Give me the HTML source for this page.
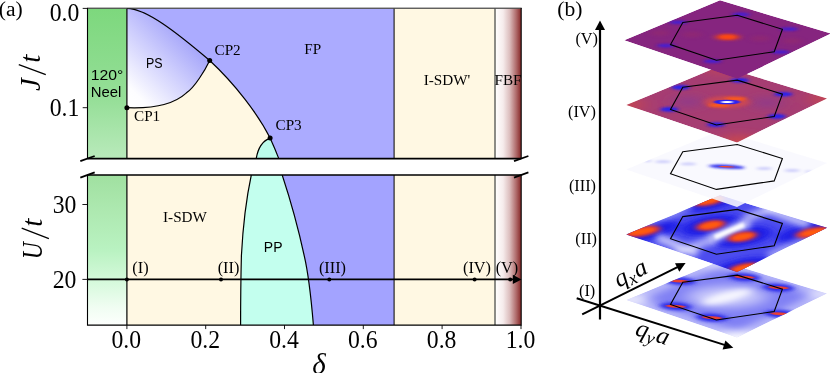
<!DOCTYPE html>
<html><head><meta charset="utf-8">
<style>
html,body{margin:0;padding:0;background:#fff;}
body{width:830px;height:373px;overflow:hidden;font-family:"Liberation Serif",serif;}
svg{display:block;}
.s{font-family:"Liberation Serif",serif;}
.ss{font-family:"Liberation Sans",sans-serif;}
</style></head><body>
<svg width="830" height="373" viewBox="0 0 830 373">
<defs>
<linearGradient id="gT" x1="0" y1="0" x2="0" y2="1">
<stop offset="0" stop-color="#7dd87d"/><stop offset="0.4" stop-color="#8ddc8f"/><stop offset="0.62" stop-color="#97df99"/><stop offset="1" stop-color="#b9eabb"/>
</linearGradient>
<linearGradient id="gB" x1="0" y1="0" x2="0" y2="1">
<stop offset="0" stop-color="#a0e0a0"/><stop offset="0.25" stop-color="#aee9b1"/><stop offset="0.5" stop-color="#b9f2c1"/><stop offset="0.7" stop-color="#d4f9da"/><stop offset="0.88" stop-color="#f0fdf2"/><stop offset="1" stop-color="#fdfffd"/>
</linearGradient>
<linearGradient id="gF" x1="0" y1="0" x2="1" y2="0">
<stop offset="0" stop-color="#ffffff"/><stop offset="0.3" stop-color="#f6ecec"/><stop offset="0.55" stop-color="#dcbebe"/><stop offset="0.8" stop-color="#b06c6c"/><stop offset="1" stop-color="#852525"/>
</linearGradient>
<linearGradient id="gPS" gradientUnits="userSpaceOnUse" x1="130" y1="104" x2="197" y2="37">
<stop offset="0" stop-color="#ffffff"/><stop offset="0.12" stop-color="#fdfdff"/><stop offset="0.55" stop-color="#cfcffd"/><stop offset="1" stop-color="#9c9cf9"/>
</linearGradient>
<clipPath id="cT"><rect x="87.5" y="8.4" width="433.7" height="150.2"/></clipPath>
<clipPath id="cB"><rect x="87.5" y="175" width="433.7" height="150.1"/></clipPath>
</defs>

<!-- ============ PANEL A : top ============ -->
<g clip-path="url(#cT)">
<rect x="87.5" y="8.4" width="39.4" height="150.2" fill="url(#gT)"/>
<rect x="126.9" y="8.4" width="268" height="150.2" fill="#fff8e3"/>
<!-- FP region -->
<path d="M126.9,8.4 C146,8.4 176,32 209.7,60.5 C235,84 258,114 270.1,138.1 C273.2,145 276.6,153 278.8,158.6 L394.1,158.6 L394.1,8.4 Z" fill="#ababff"/>
<!-- PS region -->
<path id="ps" d="M126.9,8.4 C146,8.4 176,32 209.7,60.5 C205.2,70 194.6,87.5 186.2,93.1 C173.8,104.3 152,108.7 126.9,107.7 Z" fill="url(#gPS)"/>
<!-- PP small -->
<path d="M256.2,158.6 C258,148 262,141 270.1,138.1 C273.2,145 276.6,153 278.8,158.6 Z" fill="#bbfceb"/>
<rect x="394.1" y="8.4" width="100.5" height="150.2" fill="#fff8e3"/>
<rect x="495.3" y="8.4" width="26" height="150.2" fill="url(#gF)"/>
<!-- curves -->
<g fill="none" stroke="#000" stroke-width="1.2">
<path d="M126.9,8.4 C146,8.4 176,32 209.7,60.5 C235,84 258,114 270.1,138.1 C273.2,145 276.6,153 278.8,158.6"/>
<path d="M209.7,60.5 C205.2,70 194.6,87.5 186.2,93.1 C173.8,104.3 152,108.7 126.9,107.7"/>
<path d="M256.2,158.6 C258,148 262,141 270.1,138.1"/>
<line x1="126.9" y1="8.4" x2="126.9" y2="158.6" stroke-width="1.2"/>
<line x1="394.1" y1="8.4" x2="394.1" y2="158.6" stroke-width="1"/>
<line x1="495" y1="8.4" x2="495" y2="158.6" stroke="#787872" stroke-width="1.7"/>
</g>
<text class="s" x="508" y="84.5" font-size="15.2" text-anchor="middle" opacity="0.999">FBF</text>
</g>

<!-- ============ PANEL A : bottom ============ -->
<g clip-path="url(#cB)">
<rect x="87.5" y="175" width="39.4" height="150.1" fill="url(#gB)"/>
<rect x="126.9" y="175" width="268" height="150.1" fill="#fff8e3"/>
<path d="M282.2,175 C287.8,192 297.6,225 304.2,255.7 C308,272 311.3,300 313.4,325.1 L394.1,325.1 L394.1,175 Z" fill="#a3a3ff"/>
<path d="M251.3,175 C247,195 243,225 241.4,255.7 C240.8,280 240.6,300 240.6,325.1 L313.4,325.1 C311.3,300 308,272 304.2,255.7 C297.6,225 287.8,192 282.2,175 Z" fill="#c3ffee"/>
<rect x="394.1" y="175" width="100.5" height="150.1" fill="#fff8e3"/>
<rect x="495.3" y="175" width="26" height="150.1" fill="url(#gF)"/>
<g fill="none" stroke="#000" stroke-width="1.2">
<path d="M282.2,175 C287.8,192 297.6,225 304.2,255.7 C308,272 311.3,300 313.4,325.1"/>
<path d="M251.3,175 C247,195 243,225 241.4,255.7 C240.8,280 240.6,300 240.6,325.1"/>
<line x1="126.9" y1="175" x2="126.9" y2="325.1" stroke-width="1.2"/>
<line x1="394.1" y1="175" x2="394.1" y2="325.1" stroke-width="1"/>
<line x1="495" y1="175" x2="495" y2="325.1" stroke="#787872" stroke-width="1.7"/>
</g>
</g>

<!-- axes frames -->
<g fill="none" stroke="#000" stroke-width="1.1">
<path d="M87.5,158.6 L87.5,8 M521.2,8 L521.2,158.6"/><line x1="87" y1="8.2" x2="521.7" y2="8.2" stroke-width="0.9"/>
<path d="M87.5,175 L87.5,325.1 L521.2,325.1 L521.2,175"/>
<line x1="87.5" y1="158.6" x2="521.2" y2="158.6" stroke-width="1.6"/>
<line x1="87.5" y1="175" x2="521.2" y2="175" stroke-width="1.6"/>
</g>
<!-- break marks -->
<g stroke="#000" stroke-width="1.8" stroke-linecap="butt">
<line x1="80.3" y1="161.2" x2="94.7" y2="156"/>
<line x1="80.3" y1="177.6" x2="94.7" y2="172.4"/>
<line x1="514" y1="161.2" x2="528.4" y2="156"/>
<line x1="514" y1="177.6" x2="528.4" y2="172.4"/>
</g>
<!-- ticks -->
<g stroke="#000" stroke-width="0.9">
<line x1="82.7" y1="8.4" x2="87.5" y2="8.4"/>
<line x1="82.7" y1="107.7" x2="87.5" y2="107.7"/>
<line x1="82.4" y1="204.5" x2="87.5" y2="204.5"/>
<line x1="82.4" y1="279.4" x2="87.5" y2="279.4"/>
<line x1="126.9" y1="325.1" x2="126.9" y2="329.1"/>
<line x1="205.7" y1="325.1" x2="205.7" y2="329.1"/>
<line x1="284.5" y1="325.1" x2="284.5" y2="329.1"/>
<line x1="363.3" y1="325.1" x2="363.3" y2="329.1"/>
<line x1="442.1" y1="325.1" x2="442.1" y2="329.1"/>
<line x1="521" y1="325.1" x2="521" y2="329.1"/>
</g>
<!-- U=20 line -->
<line x1="87.5" y1="279.4" x2="514" y2="279.4" stroke="#000" stroke-width="1.9"/>
<path d="M521.5,279.4 L512.8,274.8 L512.8,284 Z" fill="#000"/>
<g fill="#000">
<circle cx="126.9" cy="279.4" r="2"/><circle cx="221" cy="279.4" r="2"/><circle cx="329.3" cy="279.4" r="2"/><circle cx="474.6" cy="279.4" r="2"/><circle cx="510.2" cy="279.4" r="2"/>
<circle cx="126.9" cy="107.7" r="2.5"/><circle cx="209.7" cy="60.5" r="2.5"/><circle cx="270.1" cy="138.1" r="2.5"/>
</g>

<!-- text -->
<g class="s" fill="#000" opacity="0.999">
<g transform="translate(-1.2,16.3) scale(1.03,1.04)"><text font-size="21">(a)</text></g>
<g transform="translate(79.3,21.1) scale(0.93,1)"><text font-size="25.5" text-anchor="end">0.0</text></g>
<g transform="translate(79.3,115.9) scale(0.93,1)"><text font-size="25.5" text-anchor="end">0.1</text></g>
<g transform="translate(76.4,212.7) scale(0.93,1)"><text font-size="25.5" text-anchor="end">30</text></g>
<g transform="translate(76.4,287.5) scale(0.93,1)"><text font-size="25.5" text-anchor="end">20</text></g>
<g transform="translate(126.2,347.6) scale(0.93,1)"><text font-size="25.5" text-anchor="middle">0.0</text></g>
<g transform="translate(205.2,347.6) scale(0.93,1)"><text font-size="25.5" text-anchor="middle">0.2</text></g>
<g transform="translate(284,347.6) scale(0.93,1)"><text font-size="25.5" text-anchor="middle">0.4</text></g>
<g transform="translate(362.8,347.6) scale(0.93,1)"><text font-size="25.5" text-anchor="middle">0.6</text></g>
<g transform="translate(441.6,347.6) scale(0.93,1)"><text font-size="25.5" text-anchor="middle">0.8</text></g>
<g transform="translate(520.5,347.6) scale(0.93,1)"><text font-size="25.5" text-anchor="middle">1.0</text></g>
<g transform="translate(39.8,90) rotate(-90)"><text x="-1" y="0" font-size="29" font-style="italic">J</text><line x1="15.3" y1="6" x2="25.4" y2="-21" stroke="#000" stroke-width="1.3"/><text x="27.3" y="0" font-size="29" font-style="italic">t</text></g>
<g transform="translate(42.4,258.3) rotate(-90)"><text x="-1" y="0" font-size="29" font-style="italic" textLength="17" lengthAdjust="spacingAndGlyphs">U</text><line x1="19.6" y1="6.5" x2="30.2" y2="-20.7" stroke="#000" stroke-width="1.3"/><text x="31.5" y="0" font-size="29" font-style="italic">t</text></g>
<text x="319" y="373.8" font-size="29" font-style="italic" text-anchor="middle">δ</text>
<g font-size="15.2">
<text x="312.8" y="54.3" text-anchor="middle">FP</text>
<text x="214.5" y="54.5">CP2</text>
<text x="134" y="120.5">CP1</text>
<text x="275.5" y="129.5">CP3</text>
<text x="185" y="221.5" text-anchor="middle">I-SDW</text>
<text x="447" y="84.5" text-anchor="middle">I-SDW'</text>
</g>
<g font-size="16.3" text-anchor="middle">
<text x="140.5" y="272.6">(I)</text>
<text x="228.5" y="272.6">(II)</text>
<text x="332.5" y="272.6">(III)</text>
<text x="477" y="272.6">(IV)</text>
<text x="507" y="272.6">(V)</text>
</g>
</g>
<g class="ss" fill="#000" font-size="14" text-anchor="middle" opacity="0.999">
<text x="107" y="80.3" font-size="14.6" textLength="32.6" lengthAdjust="spacingAndGlyphs">120°</text>
<text x="106" y="97.2" font-size="14.6" textLength="30.6" lengthAdjust="spacingAndGlyphs">Neel</text>
<text x="154.3" y="68" textLength="16.6" lengthAdjust="spacingAndGlyphs">PS</text>
<text x="273.2" y="252">PP</text>
</g>
<!-- ============ PANEL B ============ -->
<defs>
<clipPath id="q"><path d="M624.2,40.2 L720,0.3 L831,33.6 L737.2,78.8 Z"/></clipPath>
<filter id="b1" x="-50%" y="-50%" width="200%" height="200%"><feGaussianBlur stdDeviation="1"/></filter>
<filter id="b15" x="-50%" y="-50%" width="200%" height="200%"><feGaussianBlur stdDeviation="1.6"/></filter>
<filter id="b2" x="-50%" y="-50%" width="200%" height="200%"><feGaussianBlur stdDeviation="2.4"/></filter>
<filter id="b4" x="-50%" y="-50%" width="200%" height="200%"><feGaussianBlur stdDeviation="4"/></filter>
<filter id="b6" x="-50%" y="-50%" width="200%" height="200%"><feGaussianBlur stdDeviation="6"/></filter>
<filter id="a3" x="-50%" y="-80%" width="200%" height="260%"><feGaussianBlur stdDeviation="3 1.5"/></filter>
<filter id="a5" x="-50%" y="-80%" width="200%" height="260%"><feGaussianBlur stdDeviation="5 2.5"/></filter>
<filter id="a2" x="-50%" y="-80%" width="200%" height="260%"><feGaussianBlur stdDeviation="2.2 0.8"/></filter>
<filter id="b3" x="-50%" y="-50%" width="200%" height="200%"><feGaussianBlur stdDeviation="3"/></filter>
<filter id="a9" x="-50%" y="-100%" width="200%" height="300%"><feGaussianBlur stdDeviation="9 4"/></filter>
<filter id="a1" x="-50%" y="-100%" width="200%" height="300%"><feGaussianBlur stdDeviation="1.4 0.6"/></filter>
<clipPath id="q2"><path d="M626.3,40.3 L720,1.2 L827,33.7 L737,77.8 Z"/></clipPath>
<path id="quad2" d="M626.3,40.3 L720,1.2 L827,33.7 L737,77.8 Z"/>
<filter id="a15" x="-50%" y="-150%" width="200%" height="400%"><feGaussianBlur stdDeviation="2.2 0.9"/></filter>
<path id="quad" d="M624.2,40.2 L720,0.3 L831,33.6 L737.2,78.8 Z"/>
<path id="hex" d="M682.8,22.5 L737.3,15.3 L782.4,29.3 L774.2,51.7 L716.4,60.2 L670.5,44.6 Z" fill="none" stroke="#000" stroke-width="1.1" stroke-linejoin="miter"/>
</defs>

<!-- Layer I -->
<g transform="translate(0,259.8)">
<g clip-path="url(#q2)">
<use href="#quad2" fill="#8080f4"/>
<g filter="url(#a9)" fill="#fff">
<ellipse cx="727" cy="37" rx="40" ry="11" opacity="0.55"/>
<ellipse cx="739" cy="79" rx="24" ry="7"/>
<ellipse cx="628" cy="40" rx="20" ry="6" opacity="0.75"/>
<ellipse cx="828" cy="34" rx="18" ry="6" opacity="0.6"/>
<ellipse cx="716" cy="3" rx="18" ry="5" opacity="0.6"/>
</g>
<g filter="url(#b4)"><use href="#quad2" fill="none" stroke="#fff" stroke-width="9" opacity="0.55"/></g>
<g filter="url(#a5)" fill="#fff">
<ellipse cx="727" cy="37" rx="26" ry="5" opacity="0.85" transform="rotate(-14 727 37)"/>
</g>
<g filter="url(#a3)" fill="#2c2cea">
<ellipse cx="679.5" cy="21.3" rx="16" ry="4" transform="rotate(3 679.5 21.3)"/><ellipse cx="744.4" cy="17.4" rx="16" ry="4" transform="rotate(3 744.4 17.4)"/><ellipse cx="778.5" cy="27.9" rx="16" ry="4" transform="rotate(3 778.5 27.9)"/><ellipse cx="780.3" cy="54" rx="16" ry="4" transform="rotate(3 780.3 54)"/><ellipse cx="712" cy="57.9" rx="16" ry="4" transform="rotate(3 712 57.9)"/><ellipse cx="675.6" cy="46.5" rx="16" ry="4" transform="rotate(3 675.6 46.5)"/>
</g>
<g filter="url(#a1)" fill="#ea4030">
<ellipse cx="679.5" cy="21.3" rx="10" ry="1.4" transform="rotate(3 679.5 21.3)"/><ellipse cx="744.4" cy="17.4" rx="10" ry="1.4" transform="rotate(3 744.4 17.4)"/><ellipse cx="778.5" cy="27.9" rx="10" ry="1.4" transform="rotate(3 778.5 27.9)"/><ellipse cx="780.3" cy="54" rx="10" ry="1.4" transform="rotate(3 780.3 54)"/><ellipse cx="712" cy="57.9" rx="10" ry="1.4" transform="rotate(3 712 57.9)"/><ellipse cx="675.6" cy="46.5" rx="10" ry="1.4" transform="rotate(3 675.6 46.5)"/>
</g>
</g>
<use href="#hex"/>
</g>

<!-- Layer II -->
<g transform="translate(0,194.1)">
<g clip-path="url(#q2)">
<use href="#quad2" fill="#4c4cee"/>
<g filter="url(#a5)" fill="#1a1ae6">
<ellipse cx="710.7" cy="31.2" rx="30" ry="9.5" transform="rotate(-10 710.7 31.2)"/><ellipse cx="742.5" cy="42.6" rx="30" ry="9.5" transform="rotate(-10 742.5 42.6)"/><ellipse cx="642" cy="37.3" rx="37.5" ry="9.5" transform="rotate(-10 642 37.3)"/><ellipse cx="814" cy="38.2" rx="37.5" ry="9.5" transform="rotate(-10 814 38.2)"/><ellipse cx="708" cy="6.5" rx="33.0" ry="9.5" transform="rotate(-10 708 6.5)"/><ellipse cx="745" cy="74" rx="33.0" ry="9.5" transform="rotate(-10 745 74)"/>
</g>
<g filter="url(#b3)" fill="#fff">
<path d="M680,62 L716,48 L708,43 L672,57 Z" opacity="0.6"/>
<path d="M750,27 L786,12 L778,7 L742,22 Z" opacity="0.6"/>
<path d="M654,46 L694,63 L700,57 L660,40 Z" opacity="0.7"/>
<path d="M762,17 L806,34 L812,28 L768,11 Z" opacity="0.7"/>
<path d="M765,60 L812,38 L818,42 L771,65 Z" opacity="0.5"/>
<path d="M640,30 L690,10 L694,14 L644,34 Z" opacity="0.5"/>
</g>
<g filter="url(#b3)" fill="#fff" opacity="0.7">
<path d="M707.2,41 L711.2,50.2 L751.6,32.8 L747.6,23.6 Z"/>
</g>
<g filter="url(#b15)" fill="#fff">
<path d="M713.7,40.9 L715.7,45.5 L745.1,32.9 L743.1,28.3 Z"/>
</g>
<g filter="url(#a3)" fill="#e83a2c">
<ellipse cx="710.7" cy="31.2" rx="15.0" ry="4.9" transform="rotate(-10 710.7 31.2)"/><ellipse cx="742.5" cy="42.6" rx="15.0" ry="4.9" transform="rotate(-10 742.5 42.6)"/><ellipse cx="642" cy="37.3" rx="18.8" ry="4.9" transform="rotate(-10 642 37.3)"/><ellipse cx="814" cy="38.2" rx="18.8" ry="4.9" transform="rotate(-10 814 38.2)"/><ellipse cx="708" cy="6.5" rx="16.5" ry="4.9" transform="rotate(-10 708 6.5)"/><ellipse cx="745" cy="74" rx="16.5" ry="4.9" transform="rotate(-10 745 74)"/>
</g>
<g filter="url(#a2)" fill="#ff5c10">
<ellipse cx="710.7" cy="31.2" rx="10" ry="2.7" transform="rotate(-10 710.7 31.2)"/><ellipse cx="742.5" cy="42.6" rx="10" ry="2.7" transform="rotate(-10 742.5 42.6)"/><ellipse cx="642" cy="37.3" rx="12.5" ry="2.7" transform="rotate(-10 642 37.3)"/><ellipse cx="814" cy="38.2" rx="12.5" ry="2.7" transform="rotate(-10 814 38.2)"/><ellipse cx="708" cy="6.5" rx="11.0" ry="2.7" transform="rotate(-10 708 6.5)"/><ellipse cx="745" cy="74" rx="11.0" ry="2.7" transform="rotate(-10 745 74)"/>
</g>
</g>
<use href="#hex"/>
</g>

<!-- Layer III -->
<g transform="translate(0,129.2)">
<use href="#quad2" fill="#f8f8fe" fill-opacity="0.88"/>
<g clip-path="url(#q2)">
<g filter="url(#a2)" fill="#ccccfb">
<ellipse cx="663" cy="32.5" rx="8" ry="1.4"/><ellipse cx="688.3" cy="34.7" rx="8" ry="1.4"/>
<ellipse cx="764.2" cy="39.3" rx="8" ry="1.4"/><ellipse cx="792.1" cy="41.3" rx="8" ry="1.5"/><ellipse cx="808.5" cy="42.3" rx="3.5" ry="1.1"/><ellipse cx="647.8" cy="31.7" rx="3.5" ry="1.1"/>
</g>
<g filter="url(#a15)">
<ellipse cx="726.5" cy="37.5" rx="18" ry="1.9" fill="#2a2aee" transform="rotate(3 726.5 37.5)"/>
</g>
<g filter="url(#a1)">
<ellipse cx="726.5" cy="37.5" rx="8" ry="0.7" fill="#f2482a" transform="rotate(3 726.5 37.5)"/>
</g>
</g>
<use href="#hex"/>
</g>

<!-- Layer IV -->
<g transform="translate(0,64.8)">
<g clip-path="url(#q2)">
<use href="#quad2" fill="#a63d72"/>
<g filter="url(#a9)">
<ellipse cx="626" cy="40" rx="18" ry="7" fill="#d24a44" opacity="0.7"/>
<ellipse cx="828" cy="34" rx="18" ry="7" fill="#d24a44" opacity="0.7"/>
<ellipse cx="740" cy="77" rx="20" ry="7" fill="#d24a44" opacity="0.8"/>
<ellipse cx="720" cy="3" rx="16" ry="6" fill="#c04458"/>
<ellipse cx="688" cy="37" rx="14" ry="5" fill="#8a3a90"/>
<ellipse cx="767" cy="38" rx="14" ry="5" fill="#8a3a90"/>
</g>
<g filter="url(#a3)" opacity="0.75"><ellipse cx="727" cy="37.3" rx="23" ry="6" fill="#d84c48"/></g>
<g filter="url(#a2)" fill="#ff5a18"><ellipse cx="735.4" cy="33.9" rx="11" ry="1.7"/><ellipse cx="719" cy="40.5" rx="11" ry="1.7"/></g>
<g filter="url(#a2)" fill="#2820f0">
<ellipse cx="680.5" cy="22.6" rx="9" ry="2.3"/><ellipse cx="739.8" cy="15.5" rx="9" ry="2.3"/><ellipse cx="783.3" cy="29.4" rx="9" ry="2.3"/>
<ellipse cx="776.8" cy="51.6" rx="9" ry="2.3"/><ellipse cx="716" cy="59.8" rx="9" ry="2.3"/><ellipse cx="669.3" cy="44.6" rx="9" ry="2.3"/>
</g>
<g filter="url(#a1)"><ellipse cx="727" cy="37.2" rx="13" ry="2.3" fill="#2a20f2"/></g>
<g filter="url(#a1)"><ellipse cx="727" cy="37.2" rx="6" ry="1.1" fill="#fff"/></g>
</g>
<use href="#hex"/>
</g>

<!-- Layer V -->
<g>
<g clip-path="url(#q)">
<use href="#quad" fill="#86257f"/>
<g filter="url(#a3)" fill="#972c6c" opacity="0.5">
<ellipse cx="660" cy="33" rx="10" ry="3"/><ellipse cx="692" cy="34.5" rx="10" ry="3"/><ellipse cx="760" cy="38.5" rx="10" ry="3"/><ellipse cx="792" cy="41" rx="10" ry="3"/>
</g>
<g filter="url(#a2)" fill="#3a1ee0" opacity="0.85">
<ellipse cx="678.3" cy="22.3" rx="9" ry="1.8"/><ellipse cx="741" cy="14.4" rx="9" ry="1.8"/><ellipse cx="789" cy="29" rx="9" ry="1.8"/>
<ellipse cx="780.5" cy="52" rx="9" ry="1.8"/><ellipse cx="712.5" cy="61.2" rx="9" ry="1.8"/><ellipse cx="666" cy="45.6" rx="9" ry="1.8"/>
</g>
<g filter="url(#a3)"><ellipse cx="727.5" cy="37" rx="13" ry="3" fill="#e03c28"/></g>
<g filter="url(#a2)"><ellipse cx="727.5" cy="37" rx="8" ry="2" fill="#ff4a10"/></g>
</g>
<use href="#hex"/>
</g>

<!-- axes -->
<g stroke="#000" stroke-width="2" fill="none">
<line x1="600" y1="319.6" x2="600" y2="28" stroke-width="2.2"/>
<line x1="582.2" y1="314.4" x2="679" y2="266.3"/>
<line x1="576.7" y1="298.3" x2="726" y2="345.4"/>
</g>
<g fill="#000">
<path d="M600,20.6 L595,30 L605,30 Z"/>
<path d="M685.6,263 L675,263.2 L679.3,271.8 Z"/>
<path d="M733.3,347.7 L725.4,340.4 L722.6,349.4 Z"/>
</g>
<g class="s" fill="#000" opacity="0.999">
<g transform="translate(557.2,16) scale(1.03,1.04)"><text font-size="21">(b)</text></g>
<g font-size="16.3" text-anchor="end">
<text x="598" y="44">(V)</text>
<text x="596" y="117">(IV)</text>
<text x="596" y="191">(III)</text>
<text x="597" y="243.5">(II)</text>
<text x="595.3" y="295.5">(I)</text>
</g>
<g font-size="25" font-style="italic" text-anchor="middle">
<text transform="translate(634,280) rotate(-27)">q<tspan font-size="18" dy="4">x</tspan><tspan dy="-4" dx="1">a</tspan></text>
<text transform="translate(650.5,340) rotate(18)">q<tspan font-size="18" dy="4">y</tspan><tspan dy="-4" dx="1">a</tspan></text>
</g>
</g>
</svg>
</body></html>
